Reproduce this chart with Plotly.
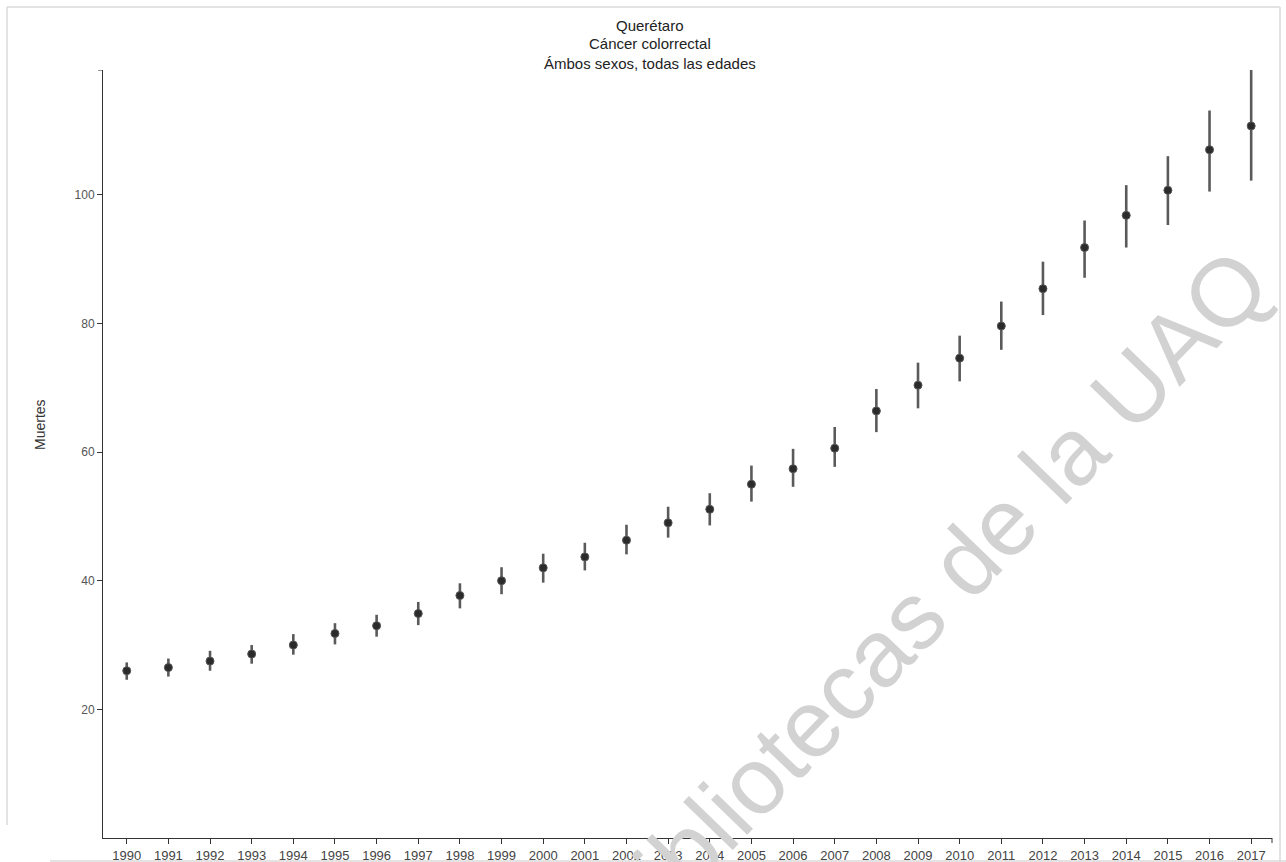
import plotly.graph_objects as go

# Colorectal cancer deaths, Querétaro, both sexes, all ages
years = list(range(1990, 2018))
deaths = [26.0, 26.5, 27.5, 28.6, 30.0, 31.8, 33.0, 34.9, 37.7, 40.0,
          42.0, 43.7, 46.3, 49.0, 51.1, 55.0, 57.4, 60.6, 66.4, 70.4,
          74.6, 79.6, 85.4, 91.8, 96.8, 100.7, 107.0, 110.7]
lower = [24.6, 25.1, 26.0, 27.1, 28.5, 30.1, 31.3, 33.1, 35.7, 37.9,
         39.7, 41.6, 44.1, 46.7, 48.6, 52.3, 54.6, 57.7, 63.1, 66.8,
         71.0, 75.9, 81.3, 87.1, 91.8, 95.3, 100.5, 102.2]
upper = [27.3, 27.9, 29.1, 30.0, 31.7, 33.4, 34.7, 36.7, 39.6, 42.1,
         44.2, 45.9, 48.7, 51.5, 53.6, 57.9, 60.5, 63.9, 69.8, 73.9,
         78.1, 83.4, 89.6, 96.0, 101.5, 106.0, 113.1, 119.4]
y_ticks = [20, 40, 60, 80, 100]

title_lines = ["Querétaro", "Cáncer colorrectal", "Ámbos sexos, todas las edades"]

W, H = 1286, 862
L, R, T, B = 103, 1272, 70, 838  # plot area in pixels


def px(x):
    return (x - L) / (R - L)


def py(y):
    return (B - y) / (B - T)


ymax = max(upper)

fig = go.Figure()
fig.add_trace(go.Scatter(
    x=years, y=deaths, mode="markers",
    marker=dict(size=8, color="#2b2b2b", line=dict(color="#555555", width=1)),
    error_y=dict(type="data", symmetric=False,
                 array=[u - m for u, m in zip(upper, deaths)],
                 arrayminus=[m - l for m, l in zip(deaths, lower)],
                 color="#5a5a5a", thickness=2.6, width=0),
    showlegend=False,
))

axis_common = dict(showline=True, linecolor="#333333", linewidth=1,
                   ticks="outside", ticklen=5, tickcolor="#333333",
                   showgrid=False, zeroline=False, automargin=False)

fig.update_xaxes(range=[1990 - 0.57, 2017 + 0.5], tickvals=years,
                 ticktext=[str(y) for y in years],
                 tickfont=dict(family="Liberation Sans, Arial", size=13, color="#444444"),
                 **axis_common)
fig.update_yaxes(range=[0, ymax], tickvals=y_ticks,
                 tickfont=dict(family="Liberation Sans, Arial", size=12, color="#555555"),
                 **axis_common)

shapes = [
    # outer end ticks of the axes
    dict(type="line", xref="paper", yref="y", x0=-5 / (R - L), x1=0, y0=ymax, y1=ymax,
         line=dict(color="#333333", width=1)),
    dict(type="line", xref="paper", yref="paper", x0=1, x1=1, y0=0, y1=-5 / (B - T),
         line=dict(color="#333333", width=1)),
    # light frame around the figure
    dict(type="line", xref="paper", yref="paper", x0=px(7), x1=px(1280), y0=py(7), y1=py(7),
         line=dict(color="#dadada", width=1.5)),
    dict(type="line", xref="paper", yref="paper", x0=px(7), x1=px(7), y0=py(7), y1=py(825),
         line=dict(color="#dadada", width=1.5)),
    dict(type="line", xref="paper", yref="paper", x0=px(1280), x1=px(1280), y0=py(7), y1=py(862),
         line=dict(color="#dadada", width=1.5)),
    dict(type="line", xref="paper", yref="paper", x0=px(50), x1=px(1286), y0=py(861), y1=py(861),
         line=dict(color="#dadada", width=1.5)),
]

annotations = []
for line, yc in zip(title_lines, [26, 44, 63]):
    annotations.append(dict(text=line, xref="paper", yref="paper", x=px(650), y=py(yc),
                            showarrow=False, xanchor="center", yanchor="middle",
                            font=dict(family="Liberation Sans, Arial", size=15, color="#222222")))

annotations.append(dict(text="Muertes", xref="paper", yref="paper", x=px(40), y=py(425),
                        textangle=-90, showarrow=False, xanchor="center", yanchor="middle",
                        font=dict(family="Liberation Sans, Arial", size=14, color="#333333")))

annotations.append(dict(text="Bibliotecas de la UAQ", xref="paper", yref="paper",
                        x=px(930), y=py(598), textangle=-46, showarrow=False,
                        xanchor="center", yanchor="middle",
                        font=dict(family="Liberation Sans, Arial", size=95, color="#d2d2d2")))

fig.update_layout(
    width=W, height=H,
    margin=dict(l=L, r=W - R, t=T, b=H - B),
    paper_bgcolor="white", plot_bgcolor="white",
    shapes=shapes, annotations=annotations,
)

fig.write_html("out.html")
